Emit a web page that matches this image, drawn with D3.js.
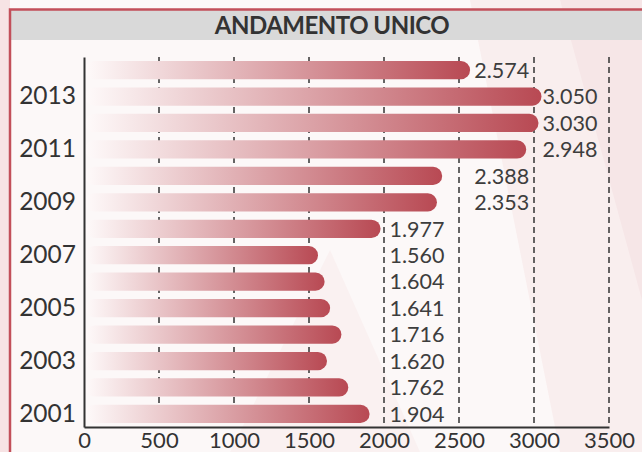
<html>
  <head>
    <script src="https://d3js.org/d3.v7.min.js"></script>
    <style>
      body { margin: 0; background: #fbf6f6; }
      text { font-family: Lato, "Open Sans", sans-serif; }
    </style>
  </head>
  <body>
    <div id="vis"></div>
  </body>
  <script>
    // data
    var years = [2001, 2002, 2003, 2004, 2005, 2006, 2007, 2008, 2009, 2010, 2011, 2012, 2013, 2014]
    var values = [1904, 1762, 1620, 1716, 1641, 1604, 1560, 1977, 2353, 2388, 2948, 3030, 3050, 2574]
    var yearLabels = [2001, 2003, 2005, 2007, 2009, 2011, 2013]
    var xTicks = [0, 500, 1000, 1500, 2000, 2500, 3000, 3500]
    var title = "ANDAMENTO UNICO"

    var W = 642, H = 452
    var margin = {top: 57, right: 33, bottom: 25, left: 84}
    var data = years.map(function(y, i) { return {year: y, value: values[i]} })

    // value labels snap to a few columns (in axis units)
    var labelCols = [2030, 2595, 3050]

    var svg = d3.select("#vis").append("svg")
      .attr("width", W)
      .attr("height", H)

    var defs = svg.append("defs")
    var grad = defs.append("linearGradient")
      .attr("id", "barGrad")
      .attr("x1", "0").attr("x2", "1").attr("y1", "0").attr("y2", "0")
    grad.append("stop").attr("offset", "0%").attr("stop-color", "#fefafa")
    grad.append("stop").attr("offset", "100%").attr("stop-color", "#b84953")

    // faint background shapes
    svg.append("rect").attr("width", W).attr("height", H).attr("fill", "#fcf8f8")
    var shapes = [
      [[560, 0], [642, 0], [642, 452], [600, 452]],
      [[470, 0], [560, 0], [642, 300], [642, 452], [560, 452]],
      [[0, 0], [10, 0], [10, 452], [0, 452]],
      [[230, 452], [330, 250], [420, 452]]
    ]
    var shapeCol = ["#f6e6e7", "#f9eeee", "#f7e3e4", "#faf1f1"]
    svg.selectAll(".bg").data(shapes).enter().append("polygon")
      .attr("points", function(d) { return d.map(function(p) { return p.join(",") }).join(" ") })
      .attr("fill", function(d, i) { return shapeCol[i] })

    // frame + title bar
    svg.append("rect").attr("x", 11).attr("y", 10).attr("width", W).attr("height", 30).attr("fill", "#d9d9d9")
    svg.append("path").attr("d", "M10," + H + " V9.5 H" + W)
      .attr("fill", "none").attr("stroke", "#c24f5a").attr("stroke-width", 2.5)
    svg.append("text")
      .attr("x", 332).attr("y", 34)
      .attr("text-anchor", "middle")
      .attr("font-size", 24).attr("font-weight", "bold")
      .attr("letter-spacing", "-0.5")
      .attr("fill", "#333")
      .text(title)

    var x = d3.scaleLinear().domain([0, 3500]).range([margin.left, W - margin.right])
    var y = d3.scaleBand()
      .domain(years.slice().reverse())
      .range([margin.top, H - margin.bottom])
      .paddingInner(0.31).paddingOuter(0.15)

    // dashed grid
    svg.selectAll(".grid").data(xTicks.slice(1)).enter().append("line")
      .attr("x1", function(d) { return x(d) }).attr("x2", function(d) { return x(d) })
      .attr("y1", margin.top).attr("y2", H - margin.bottom)
      .attr("stroke", "#333").attr("stroke-width", 1.5)
      .attr("stroke-dasharray", "6,4")

    // bars
    svg.selectAll(".bar").data(data).enter().append("rect")
      .attr("x", x(0) + 1)
      .attr("y", function(d) { return y(d.year) })
      .attr("width", function(d) { return x(d.value) - x(0) - 1 })
      .attr("height", y.bandwidth())
      .attr("rx", y.bandwidth() / 2)
      .attr("fill", "url(#barGrad)")

    // value labels
    var fmt = function(v) { return d3.format(",")(v).replace(",", ".") }
    svg.selectAll(".val").data(data).enter().append("text")
      .attr("x", function(d) {
        var c = labelCols.find(function(k) { return k >= d.value }) || d.value
        return x(c) + 1
      })
      .attr("y", function(d) { return y(d.year) + y.bandwidth() / 2 })
      .attr("dy", "0.36em")
      .attr("font-size", 21.5)
      .attr("fill", "#3d3d3d")
      .text(function(d) { return fmt(d.value) })

    // axes
    var xAxis = svg.append("g")
      .attr("transform", "translate(0," + (H - margin.bottom) + ")")
      .call(d3.axisBottom(x).tickValues(xTicks).tickFormat(d3.format("d")).tickSize(0).tickPadding(5))
    xAxis.select(".domain").attr("stroke", "#333").attr("stroke-width", 2)
    xAxis.selectAll("text").attr("font-size", 22).attr("fill", "#333").attr("font-family", "Lato")

    var yAxis = svg.append("g")
      .attr("transform", "translate(" + margin.left + ",0)")
      .call(d3.axisLeft(y).tickValues(yearLabels).tickSize(0).tickPadding(8))
    yAxis.select(".domain").attr("stroke", "#333").attr("stroke-width", 2)
    yAxis.selectAll("text").attr("font-size", 24.5).attr("fill", "#333").attr("font-family", "Lato")
  </script>
</html>
